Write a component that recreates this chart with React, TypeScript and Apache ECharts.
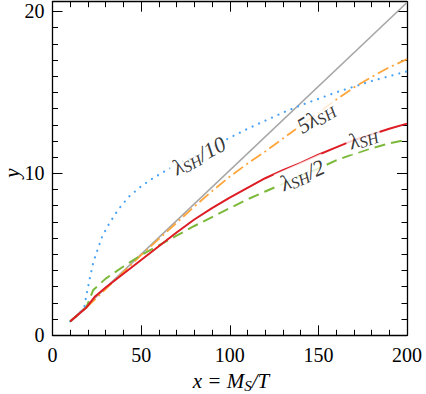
import React, { useEffect, useRef } from "react";
import * as echarts from "echarts";

// ---- data ----
const grayX = [10, 200];
const grayY = [0.86, 20.55];

const blueX = [10, 15, 18, 19, 21, 23, 25, 28, 32, 37, 43, 50, 56, 62, 70, 80, 90, 100, 110, 120, 130, 140, 150, 160, 170, 180, 190, 200];
const blueY = [0.86, 1.3, 1.75, 2.4, 3.5, 4.5, 5.15, 6.1, 6.9, 7.75, 8.55, 9.2, 9.65, 10.05, 10.55, 11.05, 11.6, 12.2, 12.75, 13.25, 13.75, 14.2, 14.6, 15.0, 15.35, 15.7, 16.0, 16.3];

const orangeX = [10, 19, 30, 40, 50, 60, 70, 80, 90, 100, 110, 120, 130, 140, 150, 160, 170, 180, 190, 200];
const orangeY = [0.86, 1.7, 2.85, 3.9, 4.95, 5.95, 6.95, 7.95, 8.9, 9.8, 10.6, 11.35, 12.15, 12.95, 13.75, 14.55, 15.3, 15.95, 16.55, 17.05];

const greenX = [10, 19, 23, 30, 40, 50, 60, 70, 80, 90, 100, 110, 120, 130, 140, 150, 160, 170, 180, 190, 200];
const greenY = [0.86, 1.7, 2.8, 3.5, 4.25, 4.95, 5.55, 6.15, 6.75, 7.3, 7.85, 8.4, 8.88, 9.35, 9.85, 10.3, 10.8, 11.2, 11.55, 11.85, 12.08];

const redX = [10, 19, 24, 30, 40, 50, 60, 70, 80, 90, 100, 110, 120, 130, 140, 150, 160, 170, 180, 190, 200];
const redY = [0.86, 1.7, 2.4, 2.95, 3.8, 4.65, 5.5, 6.35, 7.15, 7.85, 8.5, 9.1, 9.7, 10.2, 10.65, 11.15, 11.6, 12.05, 12.4, 12.75, 13.07];

// curve labels: rich text, anchor in data coordinates, rotation in degrees
const labelTexts = [
  "{m|λ}{s|SH}{m|/10}",
  "{m|5λ}{s|SH}",
  "{m|λ}{s|SH}",
  "{m|λ}{s|SH}{m|/2}",
];
const labelX = [82.6, 148.5, 175.2, 140.9];
const labelY = [11.1, 13.45, 12.2, 9.9];
const labelAngle = [28, 31, 19, 24];

const xTitle = "{m|x = M}{s|S}{m|/T}";
const yTitle = "y";

// axis ticks
const xMajorInterval = 50;
const xMinorSplit = 5;
const yMajorInterval = 10;
const yMinorInterval = 1;
const xMajor = [0, 50, 100, 150, 200];
const yMajor = [0, 10, 20];

const X_MIN = 0;
const X_MAX = 200;
const Y_MIN = 0;
const Y_MAX = 20.6;

const FONT = "'Liberation Serif', 'DejaVu Serif', serif";

function pairs(xs: number[], ys: number[]) {
  return xs.map((x, i) => [x, ys[i]]);
}

export default function App() {
  const ref = useRef<HTMLDivElement>(null);
  useEffect(() => {
    if (!ref.current) return;
    const chart = echarts.init(ref.current, null, { renderer: "svg" });
    const labelStyle = { fontFamily: FONT, fontSize: 20, color: "#000" };
    const MAJOR_LEN = 10;
    const MINOR_LEN = 5.5;

    // explicit (effectively solid) dash so every tick gets its own dash attribute
    const tickLS = { color: "#000", width: 1, type: [40, 0.001] };
    const borderLine = { show: true, onZero: false, lineStyle: { color: "#000", width: 1.3, type: [1000, 0.001] } };

    const lineSeries = (name: string, data: number[][], color: string, width: number, type: any, cap: string) => ({
      name,
      type: "line",
      data,
      showSymbol: false,
      symbol: "none",
      lineStyle: { color, width, type, cap },
    });

    const xAxisBase = (position: string, withLabels: boolean) => ({
      type: "value",
      min: X_MIN,
      max: X_MAX,
      interval: xMajorInterval,
      position,
      splitLine: { show: false },
      minorSplitLine: { show: false },
      axisLine: borderLine,
      axisTick: { show: true, inside: true, length: MAJOR_LEN, lineStyle: tickLS },
      minorTick: { show: true, splitNumber: xMinorSplit, length: MINOR_LEN, lineStyle: tickLS },
      axisLabel: withLabels
        ? { ...labelStyle, margin: 10, formatter: (v: number) => (xMajor.includes(v) ? String(v) : "") }
        : { show: false },
    });

    const yAxisBase = (position: string, interval: number, len: number, withLine: boolean, withLabels: boolean) => ({
      type: "value",
      min: Y_MIN,
      max: Y_MAX,
      interval,
      position,
      splitLine: { show: false },
      axisLine: withLine ? borderLine : { show: false, onZero: false },
      axisTick: { show: true, inside: true, length: len, lineStyle: tickLS },
      axisLabel: withLabels
        ? { ...labelStyle, margin: 8, formatter: (v: number) => (yMajor.includes(v) ? String(v) : "") }
        : { show: false },
    });

    const rich = {
      m: { fontFamily: FONT, fontSize: 22, fontStyle: "italic", lineHeight: 24, verticalAlign: "middle", color: "#000" },
      s: { fontFamily: FONT, fontSize: 16, fontStyle: "italic", lineHeight: 14, verticalAlign: "bottom", color: "#000" },
    };
    const titleRich = {
      m: { fontFamily: FONT, fontSize: 21, fontStyle: "italic", lineHeight: 24, verticalAlign: "middle", color: "#000" },
      s: { fontFamily: FONT, fontSize: 15, fontStyle: "italic", lineHeight: 14, verticalAlign: "bottom", color: "#000" },
    };

    chart.setOption({
      animation: false,
      grid: { left: 52.5, right: 19, top: 1.7, bottom: 58.7 },
      xAxis: [xAxisBase("bottom", true), xAxisBase("top", false)],
      yAxis: [
        yAxisBase("left", yMajorInterval, MAJOR_LEN, true, true),
        yAxisBase("left", yMinorInterval, MINOR_LEN, false, false),
        yAxisBase("right", yMajorInterval, MAJOR_LEN, true, false),
        yAxisBase("right", yMinorInterval, MINOR_LEN, false, false),
      ],
      series: [
        lineSeries("gray", pairs(grayX, grayY), "#a6a6a6", 1.6, "solid", "butt"),
        lineSeries("blue", pairs(blueX, blueY), "#4aa3f5", 2.2, [0.1, 7], "round"),
        lineSeries("orange", pairs(orangeX, orangeY), "#ffa53a", 1.8, [12, 4, 2, 4], "butt"),
        lineSeries("green", pairs(greenX, greenY), "#7cb83a", 2, [11, 6], "butt"),
        lineSeries("red", pairs(redX, redY), "#dd1c24", 2, "solid", "butt"),
        {
          name: "labels",
          type: "scatter",
          z: 10,
          silent: true,
          clip: false,
          symbolSize: 1,
          itemStyle: { color: "rgba(0,0,0,0)" },
          emphasis: { disabled: true },
          label: {
            show: true,
            position: "inside",
            rich,
            color: "#000",
            backgroundColor: "#fff",
            padding: [0, 3, 0, 3],
          },
          labelLayout: { hideOverlap: false },
          data: labelTexts.map((t, i) => ({
            value: [labelX[i], labelY[i]],
            label: { formatter: t, rotate: labelAngle[i] },
          })),
        },
      ],
      graphic: [
        {
          type: "text",
          x: 231,
          y: 381,
          z: 100,
          style: { text: xTitle, rich: titleRich, align: "center", verticalAlign: "middle" },
        },
        {
          type: "text",
          x: 12,
          y: 173,
          rotation: Math.PI / 2,
          z: 100,
          style: { text: yTitle, fontFamily: FONT, fontSize: 21, fontStyle: "italic", fill: "#000", align: "center", verticalAlign: "middle" },
        },
      ],
    });

    return () => chart.dispose();
  }, []);
  return <div ref={ref} style={{ position: "absolute", left: 0, top: 0, width: 426, height: 394 }} />;
}
